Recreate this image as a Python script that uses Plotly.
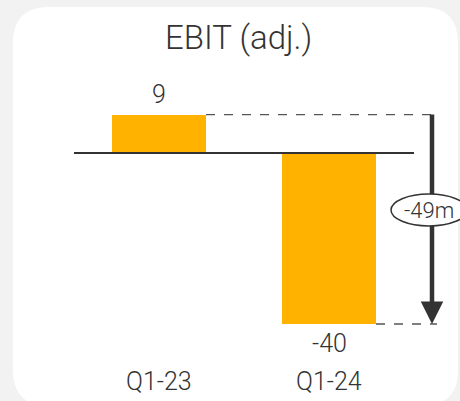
import plotly.graph_objects as go

categories = ["Q1-23", "Q1-24"]
values = [9, -40]
value_labels = ["9", "-40"]
delta_label = "-49m"
title = "EBIT (adj.)"

W, H = 460, 401
BAR = "#FFB300"
INK = "#333333"
FONT = "Roboto, sans-serif"

# pixel mapping helpers (layout only)
x0px, xstep = 159, 170          # pixel of first category, px per category
zero_px, ypx = 153, 4.275       # pixel of zero line, px per unit
xr = [-x0px / xstep, (W - x0px) / xstep]
yr = [-(H - zero_px) / ypx, zero_px / ypx]

def px2x(p):
    return (p - x0px) / xstep

def py2y(p):
    return (zero_px - p) / ypx

def font(size):
    return dict(family=FONT, size=size, color=INK, weight=300)

fig = go.Figure()
fig.add_trace(go.Bar(x=[0, 1], y=values, width=0.553, marker=dict(color=BAR, line=dict(width=0)),
                     hoverinfo="skip"))

shapes = []
# rounded card (paper coordinates)
def P(x, y):
    return f"{x / W:.5f},{1 - y / H:.5f}"
L, T, R, B, r = 13, 7, 458, 406, 36
card = (f"M {P(L + r, T)} L {P(R - r, T)} Q {P(R, T)} {P(R, T + r)} L {P(R, B - r)} "
        f"Q {P(R, B)} {P(R - r, B)} L {P(L + r, B)} Q {P(L, B)} {P(L, B - r)} "
        f"L {P(L, T + r)} Q {P(L, T)} {P(L + r, T)} Z")
shapes.append(dict(type="path", xref="paper", yref="paper", path=card,
                   fillcolor="white", line=dict(width=0), layer="below"))
# zero line
shapes.append(dict(type="line", xref="x", yref="y", x0=-0.5, x1=1.5, y0=0, y1=0,
                   line=dict(color=INK, width=2), layer="above"))
# dashed guide lines
half = 0.553 / 2
arrow_x = px2x(432)
shapes.append(dict(type="line", x0=0 + half, x1=arrow_x, y0=values[0], y1=values[0],
                   line=dict(color="#555555", width=1.3, dash="dash")))
shapes.append(dict(type="line", x0=1 + half, x1=px2x(437), y0=values[1], y1=values[1],
                   line=dict(color="#555555", width=1.3, dash="dash")))
# arrow shaft
shapes.append(dict(type="line", x0=arrow_x, x1=arrow_x, y0=values[0], y1=values[1] + 3,
                   line=dict(color=INK, width=4.5)))
# ellipse
ecx, ecy, ew, eh = 429, 210, 76, 32
shapes.append(dict(type="circle", x0=px2x(ecx - ew / 2), x1=px2x(ecx + ew / 2),
                   y0=py2y(ecy + eh / 2), y1=py2y(ecy - eh / 2),
                   fillcolor="white", line=dict(color=INK, width=1.5)))

ann = []
ann.append(dict(x=arrow_x, y=values[1], ax=arrow_x, ay=values[1] + 5, xref="x", yref="y",
                axref="x", ayref="y", showarrow=True, arrowhead=2, arrowsize=1.0,
                arrowwidth=4.5, arrowcolor=INK, text="", standoff=0))
ann.append(dict(x=px2x(ecx), y=py2y(ecy), text=delta_label, showarrow=False,
                xanchor="center", yanchor="middle", font=font(22)))
ann.append(dict(x=238 / W, y=1 - 37 / H, xref="paper", yref="paper", text=title, showarrow=False,
                xanchor="center", yanchor="middle", font=font(33)))
for i, (v, lab) in enumerate(zip(values, value_labels)):
    ann.append(dict(x=i, y=v, text=lab, showarrow=False, xanchor="center", yanchor="middle",
                    yshift=20 if v > 0 else -19, font=font(25)))
for i, c in enumerate(categories):
    ann.append(dict(x=i, y=1 - 381 / H, yref="paper", text=c, showarrow=False,
                    xanchor="center", yanchor="middle", font=font(25)))

fig.update_layout(
    width=W, height=H, margin=dict(l=0, r=0, t=0, b=0),
    paper_bgcolor="#f2f2f2", plot_bgcolor="rgba(0,0,0,0)",
    xaxis=dict(range=xr, visible=False, fixedrange=True),
    yaxis=dict(range=yr, visible=False, fixedrange=True),
    shapes=shapes, annotations=ann, showlegend=False, bargap=0,
)
fig.write_html("out.html")
